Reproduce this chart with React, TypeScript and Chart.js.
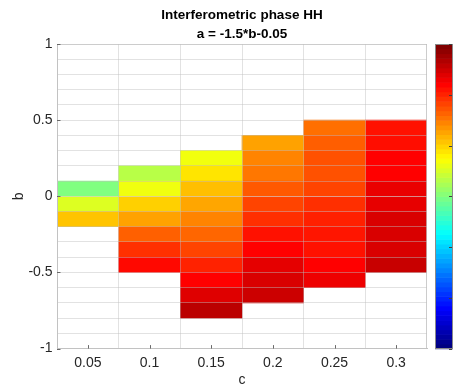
import React, { useEffect, useRef } from "react";
import { Chart, registerables } from "chart.js";

Chart.register(...registerables);

// ---- data ----
const cValues = [0.05, 0.1, 0.15, 0.2, 0.25, 0.3];
const cTickLabels = ["0.05", "0.1", "0.15", "0.2", "0.25", "0.3"];
const cMin = 0.025;
const cMax = 0.325;

const bMin = -1;
const bMax = 1;
const bCellSize = 0.1;
const bTickValues = [-1, -0.5, 0, 0.5, 1];
const bTickLabels = ["-1", "-0.5", "0", "0.5", "1"];

// upper b edge of the first (top) cell of each c column
const bTopEdge = [0.1, 0.2, 0.3, 0.4, 0.5, 0.5];

// phase values per column, top cell first
const phaseC005 = [0, 1.1, 2.2];
const phaseC010 = [0.66, 1.32, 2.05, 2.6, 3.37, 3.94, 4.4];
const phaseC015 = [1.35, 1.8, 2.25, 2.55, 2.95, 3.3, 3.7, 4.1, 4.5, 4.88, 5.3];
const phaseC020 = [2.6, 2.95, 3.1, 3.45, 3.7, 3.95, 4.3, 4.5, 4.8, 4.95, 5.1];
const phaseC025 = [3.2, 3.4, 3.55, 3.55, 3.7, 3.95, 4.12, 4.25, 4.3, 4.5, 4.7];
const phaseC030 = [4.3, 4.35, 4.5, 4.5, 4.75, 4.78, 4.95, 4.95, 4.95, 5.15];

const phaseMin = -6;
const phaseMax = 6;
const colorbarTicks = [-6, -4, -2, 0, 2, 4, 6];

const titleLines = ["Interferometric phase HH", "a = -1.5*b-0.05"];

// ---- styles ----
const FONT = "'Liberation Sans', Arial, Helvetica, sans-serif";
const TEXT = "#262626";
const GRID = "rgba(190,190,190,0.45)";
const AXIS = "#c2c2c2";
const TICK_SIZE = 14;

function jet(t: number): string {
  const c = (x: number) => Math.max(0, Math.min(1, x));
  const r = c(1.5 - Math.abs(4 * t - 3));
  const g = c(1.5 - Math.abs(4 * t - 2));
  const b = c(1.5 - Math.abs(4 * t - 1));
  return `rgb(${Math.round(r * 255)},${Math.round(g * 255)},${Math.round(b * 255)})`;
}
const phaseColor = (v: number) => jet((v - phaseMin) / (phaseMax - phaseMin));

const columns = [phaseC005, phaseC010, phaseC015, phaseC020, phaseC025, phaseC030];
const bGridValues = Array.from(
  { length: Math.round((bMax - bMin) / bCellSize) + 1 },
  (_, k) => Math.round((bMin + k * bCellSize) * 10) / 10
);

const overlayPlugin = {
  id: "overlay",
  afterDraw(chart: any) {
    const { ctx, chartArea: ca, scales } = chart;
    const xs = scales.x;
    const ys = scales.y;
    const cb = scales.cb;
    ctx.save();
    ctx.strokeStyle = "rgba(190,190,190,0.6)";
    ctx.lineWidth = 1;
    ctx.beginPath();
    ctx.moveTo(ca.left, Math.round(ca.top) + 0.5);
    ctx.lineTo(ca.right, Math.round(ca.top) + 0.5);
    ctx.moveTo(Math.round(ca.right) - 0.5, ca.top);
    ctx.lineTo(Math.round(ca.right) - 0.5, ca.bottom);
    ctx.stroke();

    ctx.strokeStyle = "#6a6a6a";
    ctx.beginPath();
    cValues.forEach((v) => {
      const px = Math.round(xs.getPixelForValue(v)) + 0.5;
      ctx.moveTo(px, ca.bottom);
      ctx.lineTo(px, ca.bottom - 3.5);
    });
    bTickValues.forEach((v) => {
      const py = Math.round(ys.getPixelForValue(v)) + 0.5;
      ctx.moveTo(ca.left, py);
      ctx.lineTo(ca.left + 3.5, py);
    });
    ctx.stroke();

    const left = Math.round(ca.right) + 8;
    const w = 18;
    const n = 64;
    for (let k = 0; k < n; k++) {
      const v0 = phaseMin + ((phaseMax - phaseMin) * k) / n;
      const v1 = phaseMin + ((phaseMax - phaseMin) * (k + 1)) / n;
      const yTop = cb.getPixelForValue(v1);
      const yBot = cb.getPixelForValue(v0);
      ctx.fillStyle = jet(k / (n - 1));
      ctx.fillRect(left, yTop, w, yBot - yTop + 0.6);
    }
    ctx.strokeStyle = "#8a8a8a";
    ctx.strokeRect(
      left + 0.5,
      Math.round(cb.getPixelForValue(phaseMax)) + 0.5,
      w - 1,
      Math.round(cb.getPixelForValue(phaseMin) - cb.getPixelForValue(phaseMax)) - 1
    );
    ctx.strokeStyle = "#404040";
    ctx.beginPath();
    colorbarTicks.forEach((v) => {
      const py = Math.round(cb.getPixelForValue(v)) + 0.5;
      ctx.moveTo(left + w - 1, py);
      ctx.lineTo(left + w - 4, py);
    });
    ctx.stroke();
    ctx.restore();
  },
};

export default function App() {
  const ref = useRef<HTMLCanvasElement | null>(null);

  useEffect(() => {
    if (!ref.current) return;
    const datasets = columns.map((vals, ci) => ({
      label: cTickLabels[ci],
      data: vals.map((_, ri) => ({
        x: cValues[ci],
        y: [bTopEdge[ci] - (ri + 1) * bCellSize, bTopEdge[ci] - ri * bCellSize],
      })),
      backgroundColor: vals.map((v) => phaseColor(v)),
      borderWidth: 0,
      barPercentage: 1,
      categoryPercentage: 1,
      grouped: false,
    }));

    const chart = new Chart(ref.current, {
      type: "bar",
      data: { datasets: datasets as any },
      options: {
        animation: false,
        responsive: false,
        devicePixelRatio: 1,
        layout: { padding: { left: 0, right: 0, top: 0, bottom: -1.2 } },
        plugins: {
          legend: { display: false },
          tooltip: { enabled: false },
          title: {
            display: true,
            text: titleLines,
            fullSize: false,
            color: "#000",
            font: { family: FONT, size: 13.5, weight: "bold", lineHeight: 1.4 },
            padding: { top: 5.5, bottom: 0.7 },
          },
        },
        scales: {
          x: {
            type: "linear",
            min: cMin,
            max: cMax,
            offset: false,
            afterBuildTicks: (s: any) => {
              s.ticks = cValues.map((value) => ({ value }));
            },
            afterFit: (s: any) => {
              s.height = 39;
            },
            grid: { display: true, offset: true, color: GRID, drawTicks: false, z: 1 },
            border: { display: true, color: AXIS, z: 2 },
            ticks: {
              autoSkip: false,
              maxRotation: 0,
              padding: 6.5,
              color: TEXT,
              font: { family: FONT, size: TICK_SIZE },
              callback: (_v: any, i: number) => cTickLabels[i],
            },
            title: {
              display: true,
              text: "c",
              color: TEXT,
              font: { family: FONT, size: TICK_SIZE, lineHeight: 1 },
              padding: { top: 0, bottom: 0.1 },
            },
          },
          y: {
            type: "linear",
            min: bMin,
            max: bMax,
            afterBuildTicks: (s: any) => {
              s.ticks = bGridValues.map((value) => ({ value }));
            },
            afterFit: (s: any) => {
              s.width = 57;
            },
            grid: { display: true, color: GRID, drawTicks: false, z: 1 },
            border: { display: true, color: AXIS, z: 2 },
            ticks: {
              autoSkip: false,
              padding: 4.5,
              color: TEXT,
              font: { family: FONT, size: TICK_SIZE },
              callback: (v: any) => {
                const idx = bTickValues.findIndex((t) => Math.abs(t - Number(v)) < 1e-6);
                return idx >= 0 ? bTickLabels[idx] : "";
              },
            },
            title: {
              display: true,
              text: "b",
              color: TEXT,
              font: { family: FONT, size: TICK_SIZE, lineHeight: 1.2 },
              padding: { top: 11.2, bottom: 0 },
            },
          },
          cb: {
            type: "linear",
            position: "right",
            min: phaseMin,
            max: phaseMax,
            afterBuildTicks: (s: any) => {
              s.ticks = colorbarTicks.map((value) => ({ value }));
            },
            afterFit: (s: any) => {
              s.width = 40;
            },
            grid: { display: false },
            border: { display: false },
            ticks: {
              padding: 33,
              color: TEXT,
              font: { family: FONT, size: TICK_SIZE },
              callback: (v: any) => String(v),
            },
          },
        },
      } as any,
      plugins: [overlayPlugin],
    });
    return () => chart.destroy();
  }, []);

  return (
    <div style={{ position: "fixed", left: 0, top: 0, width: 467, height: 390, background: "#fff" }}>
      <canvas ref={ref} width={467} height={390} style={{ width: 467, height: 390, display: "block" }} />
    </div>
  );
}
